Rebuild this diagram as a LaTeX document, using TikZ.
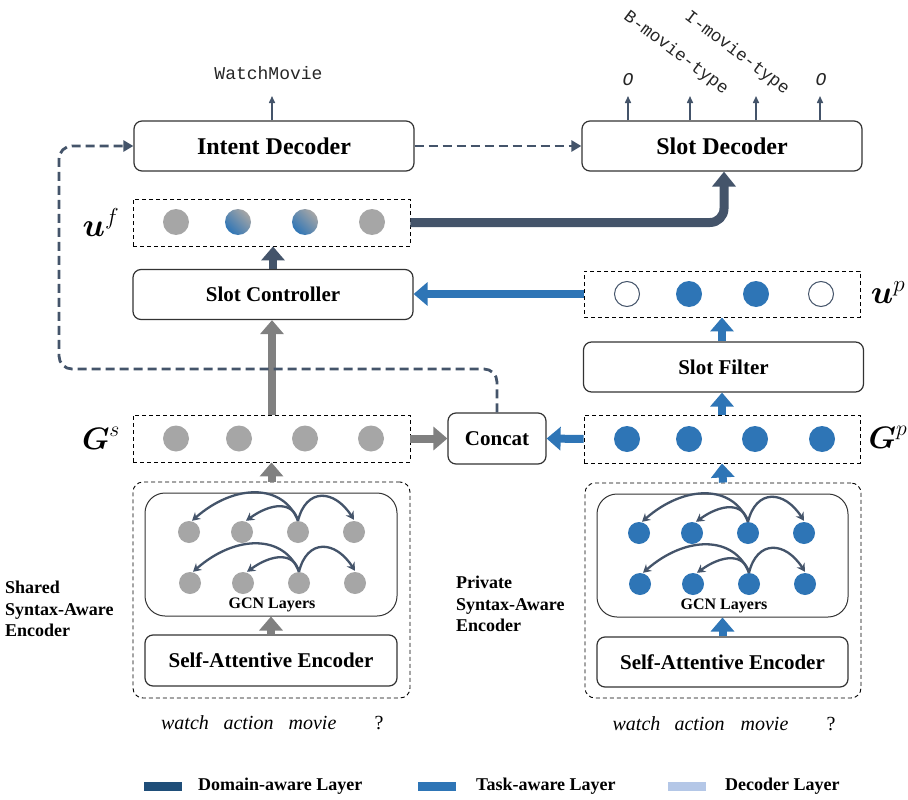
\RequirePackage{fix-cm}
\documentclass[tikz,border=0pt]{standalone}
\usepackage{amsmath,amsbsy}
\usepackage{fontspec}
\setmainfont{Liberation Serif}
\setmonofont{Liberation Mono}
\usetikzlibrary{arrows.meta,calc}
\definecolor{cgray}{HTML}{A6A6A6}
\definecolor{cblue}{HTML}{2E75B6}
\definecolor{cslate}{HTML}{44546A}
\definecolor{carrow}{HTML}{808080}
\definecolor{cdomain}{HTML}{1F4E79}
\definecolor{cdec}{HTML}{B4C7E7}
\definecolor{cborder}{HTML}{333333}
\tikzset{
 box/.style={draw=cborder, line width=1.2pt, rounded corners=8pt, fill=white, minimum width=280pt, minimum height=50pt, inner sep=0pt, font=\bfseries\fontsize{21}{24}\selectfont},
 bigbox/.style={box, font=\bfseries\fontsize{24}{28}\selectfont},
 dbox/.style={draw=black, line width=0.9pt, dash pattern=on 4pt off 3pt, inner sep=0pt},
 dot/.style={circle, minimum size=26pt, inner sep=0pt},
 gdot/.style={dot, fill=cgray},
 bdot/.style={dot, fill=cblue},
 odot/.style={dot, draw=cslate, line width=1pt, fill=white, minimum size=25pt},
 fdot/.style={dot, top color=cgray, bottom color=cblue, shading angle=-45},
 sgdot/.style={circle, minimum size=22pt, inner sep=0pt, fill=cgray},
 sbdot/.style={circle, minimum size=22pt, inner sep=0pt, fill=cblue},
 blk/.style={line width=8pt, -{Triangle[width=23pt,length=14pt]}},
 thinarr/.style={draw=cslate, line width=1.5pt, -{Triangle[width=6pt,length=7pt]}},
 dashconn/.style={draw=cslate, line width=2.8pt, dash pattern=on 9pt off 5pt, -{Triangle[width=11pt,length=10pt]}},
 arcarr/.style={draw=cslate, line width=2.3pt, -{Stealth[width=9pt,length=8pt]}},
 mono/.style={font=\ttfamily\fontsize{18}{20}\selectfont, text=black!85, inner sep=0pt},
 lab/.style={font=\fontsize{31}{36}\selectfont, inner sep=0pt},
 enc/.style={font=\bfseries\fontsize{18}{21.5}\selectfont, align=left, anchor=west, inner sep=0pt},
 word/.style={font=\itshape\fontsize{20}{24}\selectfont, inner sep=0pt},
 leg/.style={font=\bfseries\fontsize{18}{20}\selectfont, anchor=west, inner sep=0pt},
 swatch/.style={minimum width=38pt, minimum height=9pt, inner sep=0pt},
}
\begin{document}
\begin{tikzpicture}[x=1pt,y=-1pt]
\useasboundingbox (0,0) rectangle (908,800);

% main boxes
\node[bigbox] (intent) at (274,146) {Intent Decoder};
\node[bigbox] (slotdec) at (722,146) {Slot Decoder};
\node[box] (ctrl) at (273,294.5) {Slot Controller};
\node[box] (filter) at (723.5,367) {Slot Filter};
\node[box, minimum width=98pt, minimum height=51pt] (concat) at (497,438.5) {Concat};

% dashed vector boxes
\node[dbox, minimum width=277pt, minimum height=47pt] (uf) at (271.5,222.5) {};
\node[dbox, minimum width=276pt, minimum height=46pt] (up) at (722,294) {};
\node[dbox, minimum width=277pt, minimum height=47pt] (gs) at (271.5,438.5) {};
\node[dbox, minimum width=276pt, minimum height=48pt] (gp) at (722,439) {};

% encoders
\node[dbox, rounded corners=10pt, minimum width=277pt, minimum height=216pt] (encs) at (271.5,590) {};
\node[dbox, rounded corners=10pt, minimum width=276pt, minimum height=215pt] (encp) at (723,590.5) {};
\node[box, rounded corners=20pt, line width=1pt, minimum width=252pt, minimum height=123pt] (gcns) at (271,554.5) {};
\node[box, rounded corners=20pt, line width=1pt, minimum width=251pt, minimum height=123pt] (gcnp) at (722.5,555.5) {};
\node[box, minimum width=252pt, minimum height=51pt] (saes) at (271,660.5) {Self-Attentive Encoder};
\node[box, minimum width=251pt, minimum height=50pt] (saep) at (722.5,662) {Self-Attentive Encoder};
\node[font=\bfseries\fontsize{16}{18}\selectfont, inner sep=0pt] (gcnls) at (272,605) {GCN Layers};
\node[font=\bfseries\fontsize{16}{18}\selectfont, inner sep=0pt] (gcnlp) at (724,606) {GCN Layers};

% vector dots
\node[gdot] (uf1) at (176,222) {};
\node[fdot] (uf2) at (238,222) {};
\node[fdot] (uf3) at (305,222) {};
\node[gdot] (uf4) at (372,222) {};
\node[odot] (up1) at (627,294) {};
\node[bdot] (up2) at (689,294) {};
\node[bdot] (up3) at (756,294) {};
\node[odot] (up4) at (821,294) {};
\foreach \x [count=\i] in {176,239,305,371} \node[gdot] (gs\i) at (\x,438.5) {};
\foreach \x [count=\i] in {627,689,755,822} \node[bdot] (gp\i) at (\x,439) {};

% GCN dots
\foreach \x [count=\i] in {189,242,298,354} \node[sgdot] (sa\i) at (\x,532) {};
\foreach \x [count=\i] in {190,243,299,355} \node[sgdot] (sb\i) at (\x,583) {};
\foreach \x [count=\i] in {639,692,748,804} \node[sbdot] (pa\i) at (\x,533) {};
\foreach \x [count=\i] in {640,693,749,805} \node[sbdot] (pb\i) at (\x,584) {};

% GCN arcs
\foreach \r in {sa,sb,pa,pb}{
  \draw[arcarr] (\r3.north) .. controls +(-15,-38) and +(42,-37) .. ($(\r1.north)+(3,0)$);
  \draw[arcarr] (\r3.north) .. controls +(-5,-20) and +(25,-18) .. ($(\r2.north)+(4,0)$);
  \draw[arcarr] (\r3.north) .. controls +(8,-33) and +(-20,-31) .. ($(\r4.north)+(0,-1)$);
}

% block arrows
\draw[blk, draw=cslate, fill=cslate] (ctrl.north) -- (ctrl.north |- uf.south);
\draw[blk, draw=carrow] (gs.north -| 272,0) -- (ctrl.south -| 272,0);
\draw[blk, draw=carrow] (encs.north) -- (gs.south);
\draw[blk, draw=carrow] (saes.north) -- (gcns.south);
\draw[blk, draw=carrow] (gs.east) -- (concat.west);
\draw[blk, draw=cblue] (gp.west) -- (concat.east);
\draw[blk, draw=cblue] (encp.north) -- (gp.south);
\draw[blk, draw=cblue] (gp.north) -- (gp.north |- filter.south);
\draw[blk, draw=cblue] (filter.north -| up.south) -- (up.south);
\draw[blk, draw=cblue] (up.west) -- (up.west -| ctrl.east);
\draw[blk, draw=cblue] (saep.north) -- (gcnp.south);
\draw[draw=cslate, line width=9pt, rounded corners=14pt, -{Triangle[width=23pt,length=15pt]}] (uf.east) -| ($(slotdec.south)+(2,0)$);

% dashed connectors
\coordinate (dl) at (59,369);
\draw[dashconn, rounded corners=13pt] (concat.north) |- (dl) |- (intent.west);
\draw[dashconn] (intent.east) -- (slotdec.west);

% output arrows
\coordinate (wmtip) at (272,96);
\draw[thinarr] (intent.north -| wmtip) -- (wmtip);
\foreach \x [count=\i] in {628,690,756,820}{
  \coordinate (st\i) at (\x,96);
  \draw[thinarr] (slotdec.north -| st\i) -- (st\i);
}
\node[mono] (wm) at (268.5,73) {WatchMovie};
\node[mono, font=\ttfamily\itshape\fontsize{18}{20}\selectfont] (o1) at (628,80) {O};
\node[mono, font=\ttfamily\itshape\fontsize{18}{20}\selectfont] (o2) at (821,80) {O};
\node[mono, rotate=-37, font=\ttfamily\fontsize{17.5}{20}\selectfont] (bmt) at (676,53) {B-movie-type};
\node[mono, rotate=-37, font=\ttfamily\fontsize{17.5}{20}\selectfont] (imt) at (737,53) {I-movie-type};

% labels
\node[lab, font=\fontsize{33}{38}\selectfont] (ufl) at (101,222) {$\boldsymbol{u}^{f}$};
\node[lab, font=\fontsize{33}{38}\selectfont] (upl) at (888,293) {$\boldsymbol{u}^{p}$};
\node[lab] (gsl) at (101,438) {$\boldsymbol{G}^{s}$};
\node[lab] (gpl) at (888,437) {$\boldsymbol{G}^{p}$};
\node[enc] (sharedl) at (5,609) {Shared\\Syntax-Aware\\Encoder};
\node[enc] (privl) at (456,604) {Private\\Syntax-Aware\\Encoder};

% words
\foreach \x/\w [count=\i] in {185/watch,248.5/action,312.5/movie}
  \node[word] (ws\i) at (\x,723) {\w};
\node[word, font=\fontsize{20}{24}\selectfont] (ws4) at (379,723) {?};
\foreach \x/\w [count=\i] in {636.5/watch,699.5/action,764.5/movie}
  \node[word] (wp\i) at (\x,724) {\w};
\node[word, font=\fontsize{20}{24}\selectfont] (wp4) at (831,724) {?};

% legend
\node[swatch, fill=cdomain] (lg1) at (163,786.5) {};
\node[swatch, fill=cblue] (lg2) at (437,786.5) {};
\node[swatch, fill=cdec] (lg3) at (686.5,786.5) {};
\node[leg] (lt1) at (198,786) {Domain-aware Layer};
\node[leg] (lt2) at (476,786) {Task-aware Layer};
\node[leg] (lt3) at (725,786) {Decoder Layer};
\end{tikzpicture}
\end{document}
